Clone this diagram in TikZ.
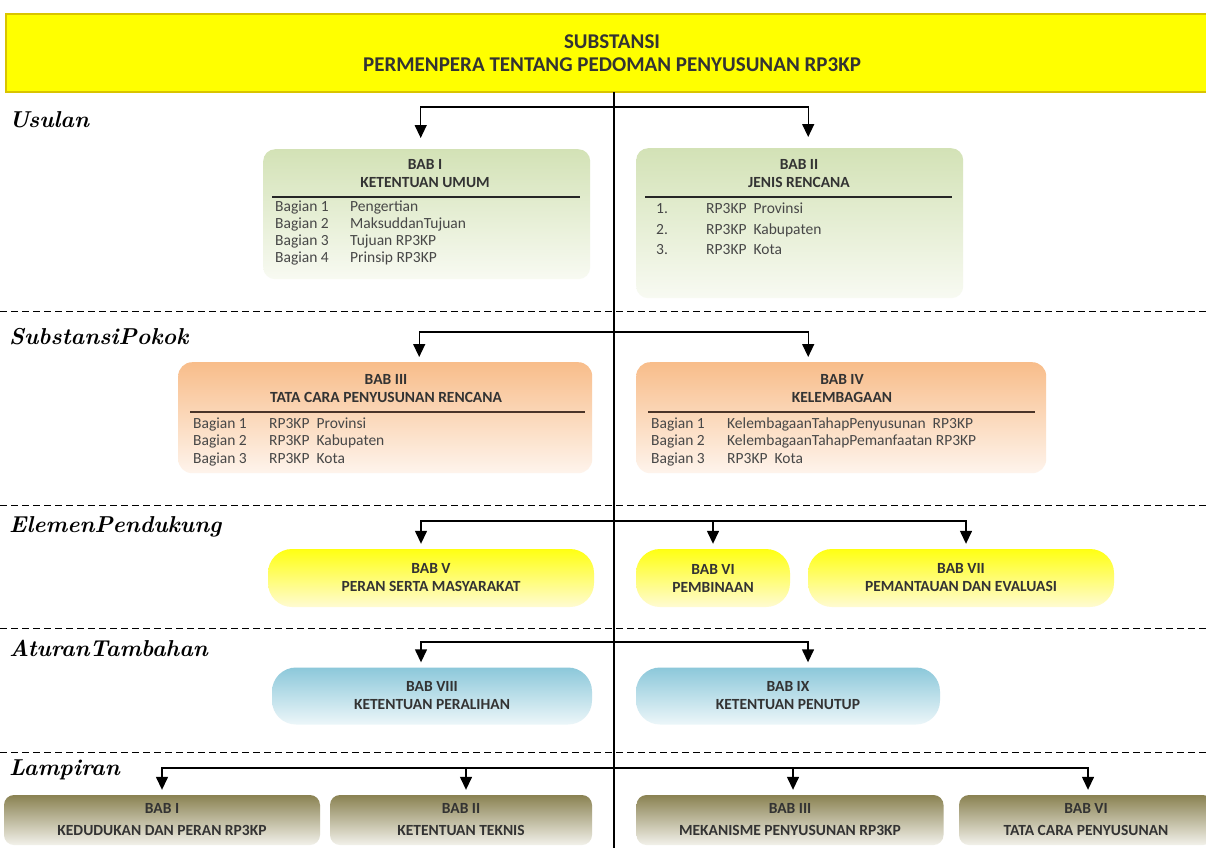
\documentclass[tikz,border=0pt]{standalone}
\usepackage{fontspec}
\setmainfont{Carlito}
\usetikzlibrary{arrows.meta}
\newcommand\lblfont{\fontfamily{lmr}\fontseries{bx}\fontshape{it}\selectfont}

\definecolor{grnTop}{HTML}{D3E2B6}
\definecolor{grnBot}{HTML}{F8FAF2}
\definecolor{orgTop}{HTML}{F8BD8A}
\definecolor{orgBot}{HTML}{FEF4EC}
\definecolor{ylwTop}{HTML}{FFFF12}
\definecolor{ylwBot}{HTML}{FFFBD2}
\definecolor{bluTop}{HTML}{8CC8DA}
\definecolor{bluBot}{HTML}{ECF6F9}
\definecolor{olvTop}{HTML}{8A8252}
\definecolor{olvMid}{HTML}{D3D0BB}
\definecolor{olvBot}{HTML}{F2F1EA}
\definecolor{hdrYel}{HTML}{FFFF00}
\definecolor{hdrEdge}{HTML}{D9C400}
\definecolor{ink}{HTML}{333333}
\definecolor{brownRule}{HTML}{4A3428}

\tikzset{
  arr/.style={line width=1.4pt, -{Triangle[width=12pt,length=13pt]}, shorten >=5pt},
  spine/.style={line width=1.4pt},
  sect/.style={line width=0.9pt, dash pattern=on 7pt off 4pt},
  lbl/.style={inner sep=0pt, anchor=west, font=\fontsize{23}{26}\lblfont},
  ttl/.style={inner sep=0pt, align=center, text=ink, font=\bfseries\fontsize{15.5}{18}\selectfont},
  item/.style={inner sep=0pt, anchor=west, text=ink!90, text height=11pt, text depth=3.5pt, font=\fontsize{15.5}{17}\selectfont},
  greenbox/.style={inner sep=0pt, anchor=north west, rounded corners=12pt, top color=grnTop, bottom color=grnBot},
  orangebox/.style={inner sep=0pt, anchor=north west, rounded corners=14pt, top color=orgTop, bottom color=orgBot},
  yellowpill/.style={inner sep=0pt, rounded corners=24pt, top color=ylwTop, bottom color=ylwBot, minimum height=58pt, align=center, text=ink, font=\bfseries\fontsize{15.5}{18}\selectfont},
  bluepill/.style={inner sep=0pt, rounded corners=24pt, top color=bluTop, bottom color=bluBot, minimum height=57pt, align=center, text=ink, font=\bfseries\fontsize{15.5}{18}\selectfont},
  olivebox/.style={inner sep=0pt, rounded corners=10pt, top color=olvTop, middle color=olvMid, bottom color=olvBot, minimum height=50pt, align=center, text=ink, font=\bfseries\fontsize{15.5}{22}\selectfont},
  header/.style={inner sep=0pt, anchor=north west, fill=hdrYel, draw=hdrEdge, line width=2pt, align=center, text=ink, font=\bfseries\fontsize{21}{23}\selectfont},
}

\begin{document}
\begin{tikzpicture}[x=1pt,y=-1pt]
\path[use as bounding box] (0,0) rectangle (1206,847);
\clip (0,0) rectangle (1206,847);
\fill[white] (0,0) rectangle (1206,847);

% ---------- title bar ----------
\node[header, minimum width=1212pt, minimum height=78pt] (head) at (5,13)
  {SUBSTANSI\\PERMENPERA TENTANG PEDOMAN PENYUSUNAN RP3KP};

% ---------- section separators ----------
\coordinate (s1a) at (0,311);   \coordinate (s1b) at (1206,311);
\coordinate (s2a) at (0,505);   \coordinate (s2b) at (1206,505);
\coordinate (s3a) at (0,628);   \coordinate (s3b) at (1206,628);
\coordinate (s4a) at (0,752);   \coordinate (s4b) at (1206,752);
\draw[sect] (s1a) -- (s1b);
\draw[sect] (s2a) -- (s2b);
\draw[sect] (s3a) -- (s3b);
\draw[sect] (s4a) -- (s4b);

% ---------- section labels ----------
\node[lbl] (lblU) at (9,120) {Usulan};
\node[lbl] (lblS) at (9,337) {SubstansiPokok};
\node[lbl] (lblE) at (9,527) {ElemenPendukung};
\node[lbl] (lblA) at (9,648) {AturanTambahan};
\node[lbl] (lblL) at (9,770) {Lampiran};

% ---------- Usulan ----------
\node[greenbox, minimum width=327pt, minimum height=130pt] (bab1) at (263,149) {};
\node[ttl] (bab1t) at (425,174) {BAB I\\KETENTUAN UMUM};
\draw[line width=1.4pt, black!85] (272,197) -- (580,197);
\foreach \y/\a/\b [count=\i] in {208/Bagian 1/Pengertian, 225/Bagian 2/MaksuddanTujuan,
                                 242/Bagian 3/Tujuan RP3KP, 259/Bagian 4/Prinsip RP3KP}{
  \node[item] (b1a\i) at (275,\y) {\a};
  \node[item] (b1b\i) at (350,\y) {\b};
}

\node[greenbox, minimum width=327pt, minimum height=150pt] (bab2) at (636,148) {};
\node[ttl] (bab2t) at (799,174) {BAB II\\JENIS RENCANA};
\draw[line width=1.4pt, black!85] (645,197) -- (952,197);
\foreach \y/\a/\b [count=\i] in {210/1./RP3KP\ \ Provinsi, 231/2./RP3KP\ \ Kabupaten, 251/3./RP3KP\ \ Kota}{
  \node[item] (b2a\i) at (656,\y) {\a};
  \node[item] (b2b\i) at (706,\y) {\b};
}

% ---------- Substansi Pokok ----------
\node[orangebox, minimum width=414pt, minimum height=111pt] (bab3) at (178,362) {};
\node[ttl] (bab3t) at (386,389) {BAB III\\TATA CARA PENYUSUNAN RENCANA};
\draw[line width=1.4pt, brownRule] (190,412) -- (585,412);
\foreach \y/\a/\b [count=\i] in {425/Bagian 1/RP3KP\ \ Provinsi, 442/Bagian 2/RP3KP\ \ Kabupaten, 460/Bagian 3/RP3KP\ \ Kota}{
  \node[item] (b3a\i) at (193,\y) {\a};
  \node[item] (b3b\i) at (269,\y) {\b};
}

\node[orangebox, minimum width=410pt, minimum height=111pt] (bab4) at (636,362) {};
\node[ttl] (bab4t) at (842,389) {BAB IV\\KELEMBAGAAN};
\draw[line width=1.4pt, brownRule] (648,412) -- (1035,412);
\foreach \y/\a/\b [count=\i] in {425/Bagian 1/KelembagaanTahapPenyusunan\ \ RP3KP,
                                 442/Bagian 2/KelembagaanTahapPemanfaatan RP3KP,
                                 460/Bagian 3/RP3KP\ \ Kota}{
  \node[item] (b4a\i) at (651,\y) {\a};
  \node[item] (b4b\i) at (727,\y) {\b};
}

% ---------- Elemen Pendukung ----------
\node[yellowpill, minimum width=326pt] (bab5) at (431,578) {BAB V\\PERAN SERTA MASYARAKAT};
\node[yellowpill, minimum width=154pt] (bab6) at (713,578) {BAB VI\\PEMBINAAN};
\node[yellowpill, minimum width=306pt] (bab7) at (961,578) {BAB VII\\PEMANTAUAN DAN EVALUASI};

% ---------- Aturan Tambahan ----------
\node[bluepill, minimum width=320pt] (bab8) at (432,696) {BAB VIII\\KETENTUAN PERALIHAN};
\node[bluepill, minimum width=304pt] (bab9) at (788,696) {BAB IX\\KETENTUAN PENUTUP};

% ---------- Lampiran ----------
\node[olivebox, minimum width=316pt] (lam1) at (162,820) {BAB I\\KEDUDUKAN DAN PERAN RP3KP};
\node[olivebox, minimum width=262pt] (lam2) at (461,820) {BAB II\\KETENTUAN TEKNIS};
\node[olivebox, minimum width=307pt] (lam3) at (790,820) {BAB III\\MEKANISME PENYUSUNAN RP3KP};
\node[olivebox, minimum width=254pt] (lam4) at (1086,820) {BAB VI\\TATA CARA PENYUSUNAN};

% ---------- spine and branches ----------
\coordinate (spTop) at (614,92);
\coordinate (spEnd) at (614,850);
\draw[spine] (spTop) -- (spEnd);

\coordinate (hubU) at (614,107);
\coordinate (hubS) at (614,332);
\coordinate (hubE) at (614,521);
\coordinate (hubA) at (614,642);
\coordinate (hubL) at (614,768);

\draw[arr, shorten >=11pt] (hubU) -| ([xshift=-6pt]bab1.north);
\draw[arr, shorten >=11pt] (hubU) -| ([xshift=8.5pt]bab2.north);

\draw[arr] (hubS) -| ([xshift=34pt]bab3.north);
\draw[arr] (hubS) -| ([xshift=-33pt]bab4.north);

\draw[arr] (hubE) -| ([xshift=-10pt]bab5.north);
\draw[arr] (hubE) -| (bab6.north);
\draw[arr] (hubE) -| ([xshift=5pt]bab7.north);

\draw[arr] (hubA) -| ([xshift=-11pt]bab8.north);
\draw[arr] (hubA) -| ([xshift=20pt]bab9.north);

\draw[arr] (hubL) -| (lam1.north);
\draw[arr] (hubL) -| ([xshift=5pt]lam2.north);
\draw[arr] (hubL) -| ([xshift=3pt]lam3.north);
\draw[arr] (hubL) -| ([xshift=2pt]lam4.north);
\end{tikzpicture}
\end{document}
